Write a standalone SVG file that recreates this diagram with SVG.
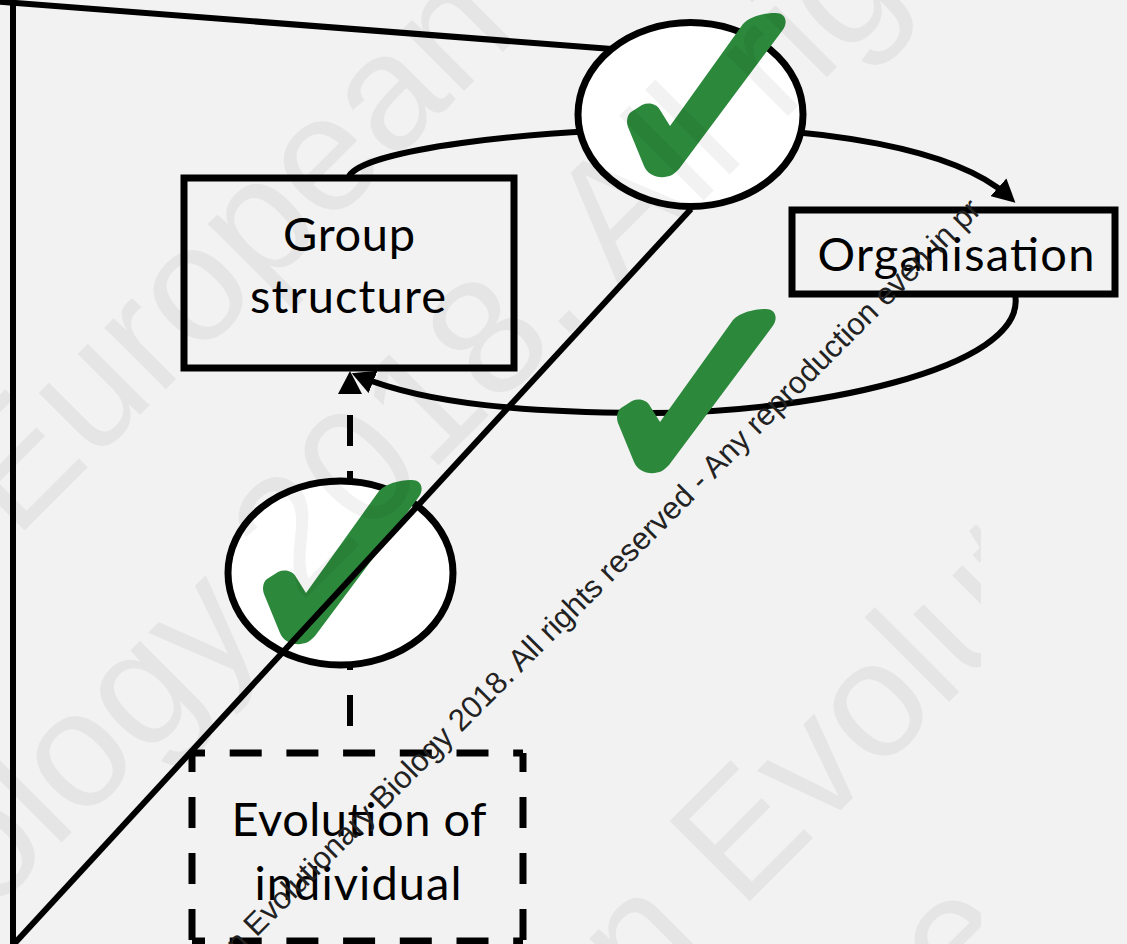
<svg xmlns="http://www.w3.org/2000/svg" width="1127" height="944" viewBox="0 0 1127 944">
<style>
.ln{fill:none;stroke:#000;stroke-width:6}
.box{fill:none;stroke:#000;stroke-width:7}
.oval{fill:#fff;stroke:#000;stroke-width:7}
.lbl{font-family:Lato,"Liberation Sans",sans-serif;font-size:47px;fill:#000;text-anchor:middle}
.tick{fill:#2c883b}
.wm{font-family:"Liberation Sans",Arial,sans-serif;font-size:165px;fill:#000;fill-opacity:0.05}
.wms{font-family:"Liberation Sans",Arial,sans-serif;font-size:31px;fill:#222}
</style>
<defs>
<marker id="arr" markerUnits="userSpaceOnUse" viewBox="0 0 23 24" refX="13" refY="12" markerWidth="23" markerHeight="24" orient="auto"><path d="M0,0 L23,12 L0,24 z" fill="#000"/></marker>
<path id="tk" class="tick" d="M116,11 L43,113 L33,97 C30,91 22,89 15,92 L4,99 C0,102 -1,109 1,114 L17,153 C21,163 34,167 45,162 C48,160 50,158 52,156 L155,18 C160,12 160,4 154,1 C146,-2 124,2 116,11 Z"/>
<clipPath id="wmclip"><rect x="0" y="0" width="981" height="944"/></clipPath>
</defs>
<rect x="0" y="0" width="1127" height="944" fill="#f2f2f2"/>
<g id="connectors">
<path class="ln" d="M349,176 C365,150 520,130 690,128 C820,127 955,148 1008,196" marker-end="url(#arr)"/>
<path class="ln" d="M1015,294 C1030,370 800,415 640,413 C530,412 430,405 361,377" marker-end="url(#arr)"/>
<path class="ln" d="M350,753 V381" stroke-width="7" stroke-dasharray="31 25" stroke-dashoffset="29" marker-end="url(#arr)"/>
</g>
<g id="group-structure">
<rect class="box" x="184" y="178" width="330" height="190"/>
<text class="lbl" x="349" y="251" textLength="132">Group</text>
<text class="lbl" x="348" y="313" textLength="196">structure</text>
</g>
<g id="organisation">
<rect class="box" x="792" y="210" width="323" height="84"/>
<text class="lbl" x="956" y="271" textLength="277">Organisation</text>
</g>
<g id="evolution-of-individual">
<path class="box" d="M192,753 H523 M192,941 H523" stroke-dasharray="32 24.7" stroke-dashoffset="19"/>
<path class="box" d="M523,753 V941 M192,753 V941" stroke-dasharray="31 25" stroke-dashoffset="12"/>
<text class="lbl" x="359" y="836" textLength="255">Evolution of</text>
<text class="lbl" x="358" y="900" textLength="207">individual</text>
</g>
<g id="check-lower">
<ellipse class="oval" cx="340.5" cy="573" rx="112.5" ry="92"/>
<use href="#tk" x="263" y="480"/>
</g>
<g id="frame-lines">
<line class="ln" x1="13" y1="-5" x2="13" y2="950"/>
<line class="ln" x1="-10" y1="1" x2="612" y2="49"/>
<line class="ln" x1="14" y1="944" x2="691" y2="209"/>
</g>
<g id="check-upper">
<ellipse class="oval" cx="690.5" cy="114.5" rx="112.5" ry="92"/>
<use href="#tk" x="627" y="13"/>
</g>
<g id="check-middle">
<use href="#tk" x="617" y="309"/>
</g>
<g id="watermark" clip-path="url(#wmclip)">
<text class="wm" transform="translate(15,540) rotate(-45)">European</text>
<text class="wm" transform="translate(-115,1019) rotate(-45)">Biology 2018. All rights</text>
<text class="wm" transform="translate(643,1008) rotate(-45)">n Evolutionary</text>
<text class="wm" transform="translate(957,1008) rotate(-45)">e</text>
<text class="wms" transform="translate(238,956) rotate(-45)">n Evolutionary Biology 2018. All rights reserved - Any reproduction even in pr</text>
</g>
</svg>
